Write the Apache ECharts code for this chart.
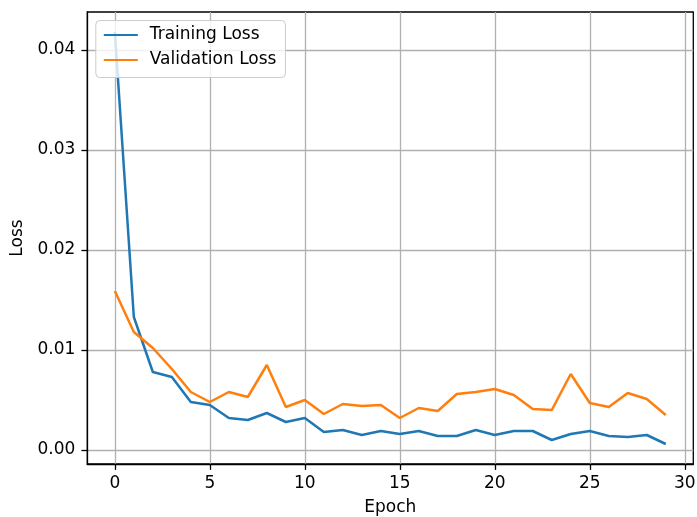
<!DOCTYPE html>
<html>
<head>
<meta charset="utf-8">
<script src="https://cdn.jsdelivr.net/npm/echarts@6/dist/echarts.min.js"></script>
<style>
html,body{margin:0;padding:0;background:#fff;}
#chart{width:697px;height:517px;}
</style>
</head>
<body>
<div id="chart"></div>
<script>
var epochs = [0,1,2,3,4,5,6,7,8,9,10,11,12,13,14,15,16,17,18,19,20,21,22,23,24,25,26,27,28,29];
var trainingLoss = [0.0418,0.0133,0.0078,0.0073,0.0048,0.0045,0.0032,0.0030,0.0037,0.0028,
  0.0032,0.0018,0.0020,0.0015,0.0019,0.0016,0.0019,0.0014,0.0014,0.0020,
  0.0015,0.0019,0.0019,0.0010,0.0016,0.0019,0.0014,0.0013,0.0015,0.0006];
var validationLoss = [0.0159,0.0118,0.0102,0.0081,0.0058,0.0048,0.0058,0.0053,0.0085,0.0043,
  0.0050,0.0036,0.0046,0.0044,0.0045,0.0032,0.0042,0.0039,0.0056,0.0058,
  0.0061,0.0055,0.0041,0.0040,0.0076,0.0047,0.0043,0.0057,0.0051,0.0035];
var xTicks = [0,5,10,15,20,25,30];
var yTicks = [0,0.01,0.02,0.03,0.04];
var seriesNames = ['Training Loss','Validation Loss'];

function pairs(vals){ return epochs.map(function(e,i){ return [e, vals[i]]; }); }

var font = 'DejaVu Sans';
var fs = 17;
var chart = echarts.init(document.getElementById('chart'), null, {renderer:'canvas'});
chart.setOption({
  animation:false,
  backgroundColor:'#ffffff',
  grid:{left:87.3,right:3.7,top:12,bottom:53,containLabel:false,outerBoundsMode:'none',
        show:true,borderColor:'#000',borderWidth:1.3,backgroundColor:'transparent'},
  legend:{
    left:95.8, top:20.5, orient:'vertical',
    data:seriesNames,
    itemWidth:34, itemHeight:16, itemGap:8,
    padding:[6,9,9,7],
    backgroundColor:'rgba(255,255,255,0.8)',
    borderColor:'#cccccc', borderWidth:1, borderRadius:4,
    textStyle:{fontFamily:font,fontSize:fs,color:'#000',lineHeight:16,padding:[0,0,0,7]},
    itemStyle:{opacity:0}
  },
  xAxis:{
    type:'value', min:-1.45, max:30.45,
    name:'Epoch', nameLocation:'middle', nameGap:35,
    nameTextStyle:{fontFamily:font,fontSize:fs,color:'#000'},
    axisLine:{show:true,onZero:false,lineStyle:{color:'#000',width:1.3}},
    axisTick:{show:true,length:5.9,customValues:xTicks,lineStyle:{color:'#000',width:1.3}},
    axisLabel:{customValues:xTicks,margin:11,fontFamily:font,fontSize:fs,color:'#000',formatter:function(v){return String(v);}},
    splitLine:{show:true,lineStyle:{color:'#b0b0b0',width:1.3}}
  },
  yAxis:{
    type:'value', min:-0.0014, max:0.0438,
    name:'Loss', nameLocation:'middle', nameGap:52,
    nameTextStyle:{fontFamily:font,fontSize:fs,color:'#000'},
    axisLine:{show:true,onZero:false,lineStyle:{color:'#000',width:1.3}},
    axisTick:{show:true,length:5.9,customValues:yTicks,lineStyle:{color:'#000',width:1.3}},
    axisLabel:{customValues:yTicks,margin:12,fontFamily:font,fontSize:fs,color:'#000',formatter:function(v){return v.toFixed(2);}},
    splitLine:{show:true,lineStyle:{color:'#b0b0b0',width:1.3}}
  },
  series:[
    {name:seriesNames[0],type:'line',data:pairs(trainingLoss),symbol:'none',showSymbol:false,
     lineStyle:{color:'#1f77b4',width:2.5},itemStyle:{color:'#1f77b4'}},
    {name:seriesNames[1],type:'line',data:pairs(validationLoss),symbol:'none',showSymbol:false,
     lineStyle:{color:'#ff7f0e',width:2.5},itemStyle:{color:'#ff7f0e'}}
  ]
});
</script>
</body>
</html>
